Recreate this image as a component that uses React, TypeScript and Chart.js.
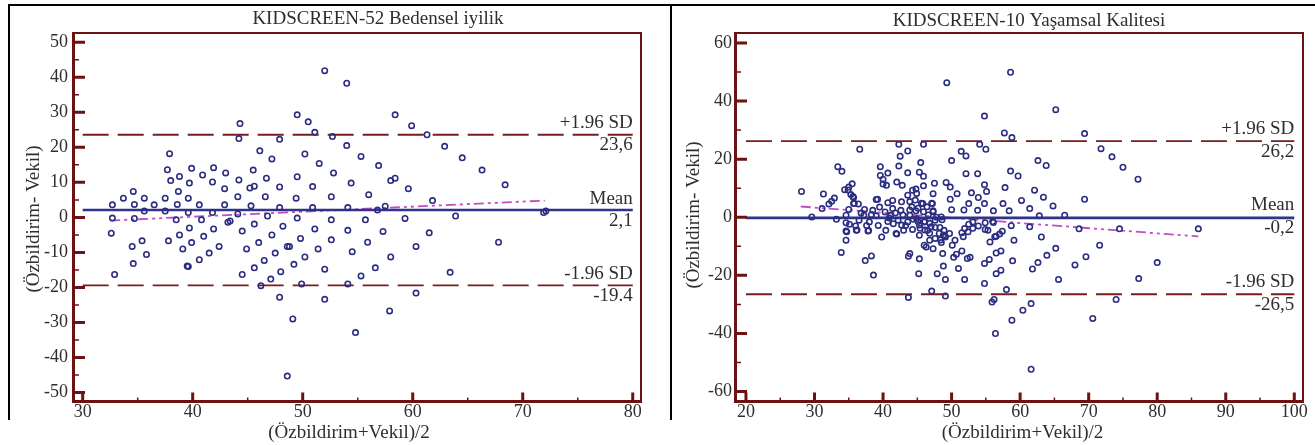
import React, { useEffect, useRef } from "react";
import { Chart, registerables } from "chart.js";

Chart.register(...registerables);

const FONT = '"Liberation Serif", "Times New Roman", serif';
const NAVY = "#2b2e80";
const MEAN_BLUE = "#2f3389";
const DASH_RED = "#7a1c1c";
const FRAME_RED = "#6c1212";
const MAGENTA = "#c24cc2";
const TEXT = "#2e2e2e";

// ---------------- Left panel: KIDSCREEN-52 Bedensel iyilik ----------------
const leftTitle = "KIDSCREEN-52 Bedensel iyilik";
const leftXTicks = [30, 40, 50, 60, 70, 80];
const leftXMinor = [35, 45, 55, 65, 75];
const leftYTicks = [-50, -40, -30, -20, -10, 0, 10, 20, 30, 40, 50];
const leftYMinor = [-45, -35, -25, -15, -5, 5, 15, 25, 35, 45];
const leftMean = 2.1;
const leftUpper = 23.6;
const leftLower = -19.4;
const leftLineLabels = ["+1.96 SD", "23,6", "Mean", "2,1", "-1.96 SD", "-19.4"];
const leftRegX = [32.5, 72.0];
const leftRegY = [-0.9, 4.8];
const leftAvg = [
  52.0, 54.0, 44.3, 49.5, 50.5, 51.1, 58.4, 59.9, 61.3, 44.2, 47.9, 52.7, 54.0, 62.9, 64.5, 66.3, 68.4,
  46.1, 47.2, 50.2, 51.5, 55.3, 56.9, 37.9, 37.7, 38.0, 38.8, 39.9, 40.9, 41.9, 43.0, 45.5, 39.7, 41.8,
  44.2, 46.7, 49.5, 52.8, 54.4, 58.0, 58.4, 59.6, 38.7, 42.9, 45.2, 45.6, 47.9, 50.9, 34.6, 33.7, 32.7,
  34.7, 35.6, 36.5, 37.5, 38.6, 39.6, 40.6, 42.9, 44.1, 45.3, 46.6, 49.4, 52.6, 56.0, 61.8, 57.5, 47.9,
  50.9, 54.1, 35.6, 37.5, 39.6, 41.8, 44.1, 46.8, 56.8, 71.9, 72.1, 32.7, 34.7, 38.5, 40.8, 43.4, 43.2,
  49.5, 52.6, 55.7, 59.3, 63.9, 32.6, 39.7, 41.9, 44.5, 47.2, 48.2, 51.1, 54.1, 57.3, 61.5, 38.8, 37.8,
  41.0, 39.9, 35.4, 34.5, 39.1, 42.4, 44.9, 46.0, 48.6, 48.8, 49.8, 52.6, 55.9, 60.3, 67.8, 35.8, 41.5,
  40.6, 39.6, 39.5, 34.6, 32.9, 47.5, 46.5, 45.6, 44.5, 50.2, 51.4, 54.5, 58.0, 49.2, 48.0, 47.1, 46.2,
  52.0, 56.6, 55.3, 54.1, 49.9, 47.9, 52.0, 60.3, 57.9, 63.4, 49.1, 54.8, 48.6, 45.6,
];
const leftDiff = [
  41.9, 38.3, 26.8, 29.3, 27.3, 24.3, 29.3, 26.2, 23.6, 22.5, 22.3, 23.1, 20.5, 20.3, 17.0, 13.5, 9.3,
  19.0, 16.7, 18.1, 15.4, 17.4, 14.8, 18.2, 13.6, 10.5, 11.7, 14.0, 12.1, 14.2, 12.7, 13.5, 9.8, 10.1,
  10.7, 11.2, 11.6, 12.7, 9.8, 10.5, 11.2, 8.2, 7.4, 8.2, 8.4, 8.9, 8.7, 8.8, 7.4, 5.5, 3.6,
  3.7, 5.5, 3.6, 5.5, 3.7, 5.5, 3.6, 3.6, 5.9, 3.3, 5.9, 5.5, 5.9, 6.5, 4.8, 3.2, 2.8,
  2.8, 2.8, 1.8, 1.8, 1.4, 1.4, 1.0, 0.4, 2.1, 1.4, 1.8, -0.2, -0.3, -0.7, -0.7, -1.0, -1.4,
  -0.2, -0.7, -0.7, -0.3, 0.4, -4.5, -3.0, -3.3, -3.9, -5.0, -2.5, -3.3, -3.7, -4.0, -4.4, -5.0, -6.7,
  -5.4, -7.2, -6.7, -8.3, -9.0, -8.3, -9.0, -7.2, -8.3, -8.3, -6.0, -6.4, -7.1, -8.3, -7.1, -10.6, -10.2,
  -12.1, -14.0, -13.9, -13.2, -16.3, -10.2, -12.3, -14.4, -16.3, -11.3, -9.0, -9.8, -11.3, -13.4, -15.5, -17.6, -19.5,
  -14.8, -14.4, -16.7, -19.0, -19.0, -22.8, -23.4, -21.6, -26.7, -15.7, -29.0, -32.9, -45.3, -1.9,
];

// ---------------- Right panel: KIDSCREEN-10 Yaşamsal Kalitesi ----------------
const rightTitle = "KIDSCREEN-10 Yaşamsal Kalitesi";
const rightXTicks = [20, 30, 40, 50, 60, 70, 80, 90, 100];
const rightXMinor = [25, 35, 45, 55, 65, 75, 85, 95];
const rightYTicks = [-60, -40, -20, 0, 20, 40, 60];
const rightYMinor = [-50, -30, -10, 10, 30, 50];
const rightMean = -0.2;
const rightUpper = 26.2;
const rightLower = -26.5;
const rightLineLabels = ["+1.96 SD", "26,2", "Mean", "-0,2", "-1.96 SD", "-26,5"];
const rightRegX = [28.0, 86.0];
const rightRegY = [3.7, -6.6];
const rightAvg = [
  58.6, 49.3, 65.2, 54.8, 57.7, 58.8, 69.4, 42.3, 45.9, 54.1, 55.0, 36.6, 43.6, 42.5, 51.4, 52.1, 71.8,
  73.4, 75.0, 77.2, 62.6, 63.8, 50.0, 33.4, 34.0, 39.6, 40.7, 42.3, 45.5, 43.6, 45.3, 45.9, 52.1, 53.8,
  58.6, 59.7, 39.6, 40.0, 42.0, 42.8, 40.5, 35.5, 35.0, 34.4, 35.3, 35.7, 31.3, 28.1, 32.9, 32.5, 32.1,
  31.1, 29.6, 36.4, 35.7, 35.0, 37.3, 39.0, 38.5, 40.7, 41.4, 42.7, 43.6, 44.3, 44.8, 45.9, 47.5, 49.2,
  49.8, 50.8, 49.8, 47.3, 47.2, 45.8, 44.2, 44.8, 47.3, 42.6, 41.4, 50.0, 51.8, 52.5, 52.9, 53.9, 55.1,
  54.8, 53.8, 54.8, 56.1, 57.5, 57.8, 58.4, 60.2, 61.4, 62.1, 63.4, 64.8, 62.8, 66.5, 69.4, 33.2, 34.6,
  34.6, 35.1, 36.0, 36.1, 34.6, 34.6, 33.9, 37.2, 38.0, 37.8, 37.4, 38.3, 38.6, 39.8, 40.4, 40.7, 41.1,
  41.5, 41.9, 42.7, 43.0, 43.6, 43.9, 44.3, 44.9, 45.3, 45.3, 46.0, 46.5, 46.0, 46.8, 47.3, 47.0, 47.6,
  48.2, 48.5, 48.9, 49.1, 49.7, 50.1, 48.5, 48.7, 48.8, 47.9, 49.1, 47.1, 49.1, 43.7, 45.2, 45.3, 43.9,
  43.7, 46.3, 50.5, 51.5, 51.9, 52.5, 53.1, 50.7, 51.5, 52.3, 51.0, 51.9, 54.8, 52.7, 55.3, 55.6, 55.5,
  54.8, 56.5, 57.2, 57.4, 56.5, 56.1, 57.2, 56.5, 58.9, 59.1, 58.7, 58.0, 56.2, 55.9, 56.4, 58.8, 60.4,
  61.6, 61.6, 61.4, 63.1, 61.8, 62.6, 63.9, 65.2, 65.6, 68.0, 68.6, 69.6, 71.6, 70.6, 74.0, 74.5, 77.3,
  80.0, 86.0, 40.0, 34.9, 35.6, 35.8, 39.2, 34.7, 37.9, 36.2, 42.0, 54.9, 56.0, 51.7, 52.4, 53.1, 53.9,
  54.9, 56.3, 57.0, 50.3, 48.4, 49.0, 44.9, 43.9, 44.7, 45.6, 45.1, 46.4, 47.1, 47.3, 43.9, 45.9, 46.6,
  47.8, 48.6, 44.4, 45.1, 46.1, 46.8, 47.6, 48.3, 45.4, 46.1, 46.8, 47.6, 48.8, 39.5, 40.3, 40.9, 41.8,
  42.2, 42.9, 43.3, 39.0, 38.3, 36.8, 36.5, 37.6, 39.3,
];
const rightDiff = [
  49.9, 46.3, 37.0, 34.8, 29.0, 27.4, 28.8, 25.1, 25.1, 25.1, 23.4, 23.4, 22.8, 21.0, 22.7, 21.1, 23.6,
  20.8, 17.2, 13.1, 19.5, 17.8, 19.5, 17.4, 15.8, 17.4, 15.2, 17.6, 18.8, 15.3, 15.5, 14.1, 15.0, 15.0,
  15.9, 14.2, 14.4, 13.1, 12.1, 11.0, 11.0, 11.5, 10.4, 9.5, 7.8, 6.8, 8.0, 8.9, 6.6, 5.5, 4.6,
  3.0, 0.1, 4.6, 4.7, 2.7, 2.7, 6.1, 2.4, 5.0, 5.8, 5.3, 7.6, 9.3, 9.7, 10.8, 11.7, 12.0,
  10.4, 8.1, 6.2, 8.1, 4.7, 4.7, 3.6, 2.2, 2.2, 2.4, 3.0, 2.6, 2.5, 4.7, 8.4, 6.8, 8.9,
  11.2, 2.4, 4.7, 2.2, 4.7, 10.2, 2.2, 5.8, 3.0, 9.3, 6.9, 3.9, 0.5, 0.7, 6.2, -0.7, 0.7,
  -1.9, -2.4, -3.0, -4.5, -4.7, -7.9, -12.1, 0.7, -1.6, -4.7, -14.9, -13.3, -19.9, -6.8, -4.5, -1.5, 0.7,
  -2.2, -5.6, -2.7, -4.5, -1.6, 0.7, -4.2, -0.5, -6.2, -2.7, -1.6, -4.5, -9.6, -7.9, -10.8, -3.3, -1.0,
  -5.6, 0.1, -4.5, -6.8, -5.6, -9.6, -8.7, -12.5, -16.8, -19.4, -21.4, -25.4, -27.1, -27.6, -19.4, -14.3, -12.5,
  -13.4, -10.2, -7.9, -5.3, -3.9, -2.4, -1.6, -12.7, -11.6, -14.2, -17.6, -21.4, -22.8, -13.8, -4.5, -8.5, -14.5,
  -15.9, -12.3, -11.6, -4.8, -6.5, -1.8, -18.2, -19.4, -15.0, -7.9, -2.9, -24.9, -28.3, -29.2, -40.0, -35.4, -32.0,
  -29.7, -52.3, -3.3, -6.8, -17.8, -15.6, -13.1, -10.7, -21.4, -16.4, -4.0, -13.6, -9.6, -34.8, -28.3, -4.0, -21.1,
  -15.6, -4.0, 11.4, 9.4, 7.1, 4.8, 6.2, -5.0, -4.6, -4.4, -5.8, -1.9, -1.5, -6.7, -5.0, -3.8, -3.0,
  -4.2, -6.7, -5.8, -13.8, -7.8, -6.5, 8.2, 5.4, 5.9, 4.8, 3.1, 3.6, 4.8, 1.9, 2.5, 1.9, 0.8,
  0.0, -0.9, -0.7, -1.5, -1.5, -2.1, -3.5, -3.5, -3.8, -4.4, -5.5, -7.3, -6.1, 3.5, 1.8, -0.3, 1.5,
  -1.0, 0.8, -2.8, 0.5, 0.9, 1.5, -1.0, -2.8, -2.8,
];

type PanelCfg = {
  xs: number[];
  ys: number[];
  xMin: number;
  xMax: number;
  yMin: number;
  yMax: number;
  width: number;
  offsetLeft: number;
  padding: { left: number; right: number; top: number; bottom: number };
  xTicks: number[];
  xMinor: number[];
  yTicks: number[];
  yMinor: number[];
  lineFrom: number;
  lineTo: number;
  mean: number;
  upper: number;
  lower: number;
  regX: number[];
  regY: number[];
  labels: string[];
  title: string;
  titlePos: [number, number];
  xTitlePos: [number, number];
  yTitlePos: [number, number];
  yLabelPad: number;
  upperOffset: number;
};

const leftCfg: PanelCfg = {
  xs: leftAvg,
  ys: leftDiff,
  xMin: 29.12,
  xMax: 80.75,
  yMin: -52.57,
  yMax: 52.65,
  width: 670,
  offsetLeft: 0,
  padding: { left: 73, right: 29, top: 33, bottom: 43.5 },
  xTicks: leftXTicks,
  xMinor: leftXMinor,
  yTicks: leftYTicks,
  yMinor: leftYMinor,
  lineFrom: 30,
  lineTo: 80,
  mean: leftMean,
  upper: leftUpper,
  lower: leftLower,
  regX: leftRegX,
  regY: leftRegY,
  labels: leftLineLabels,
  title: leftTitle,
  titlePos: [378, 19],
  xTitlePos: [349, 433],
  yTitlePos: [34, 219],
  yLabelPad: 5,
  upperOffset: 6.5,
};

const rightCfg: PanelCfg = {
  xs: rightAvg,
  ys: rightDiff,
  xMin: 18.4,
  xMax: 101.27,
  yMin: -63.4,
  yMax: 63.4,
  width: 643,
  offsetLeft: 672,
  padding: { left: 63, right: 12, top: 33, bottom: 43.5 },
  xTicks: rightXTicks,
  xMinor: rightXMinor,
  yTicks: rightYTicks,
  yMinor: rightYMinor,
  lineFrom: 20,
  lineTo: 100,
  mean: rightMean,
  upper: rightUpper,
  lower: rightLower,
  regX: rightRegX,
  regY: rightRegY,
  labels: rightLineLabels,
  title: rightTitle,
  titlePos: [357, 21],
  xTitlePos: [350.5, 433],
  yTitlePos: [22, 215],
  yLabelPad: 3,
  upperOffset: 7.5,
};

function makeDecor(cfg: PanelCfg) {
  return {
    id: "decor",
    afterDraw(chart: any) {
      const { ctx, chartArea: a } = chart;
      const sx = chart.scales.x;
      const sy = chart.scales.y;
      ctx.save();

      // frame
      ctx.strokeStyle = FRAME_RED;
      ctx.lineCap = "butt";
      ctx.lineWidth = 2;
      ctx.beginPath();
      ctx.moveTo(a.left, a.top);
      ctx.lineTo(a.right + 1, a.top);
      ctx.moveTo(a.right, a.top);
      ctx.lineTo(a.right, a.bottom + 1.5);
      ctx.stroke();
      ctx.lineWidth = 3;
      ctx.beginPath();
      ctx.moveTo(a.left + 0.5, a.top - 1);
      ctx.lineTo(a.left + 0.5, a.bottom + 1.5);
      ctx.moveTo(a.left - 1, a.bottom);
      ctx.lineTo(a.right + 1, a.bottom);
      ctx.stroke();

      // inward ticks
      ctx.lineWidth = 3;
      ctx.beginPath();
      cfg.yTicks.forEach((v) => {
        const p = sy.getPixelForValue(v);
        ctx.moveTo(a.left, p);
        ctx.lineTo(a.left + 12, p);
      });
      cfg.xTicks.forEach((v) => {
        const p = sx.getPixelForValue(v);
        ctx.moveTo(p, a.bottom);
        ctx.lineTo(p, a.bottom - 9);
      });
      ctx.stroke();
      ctx.lineWidth = 1.5;
      ctx.beginPath();
      cfg.yMinor.forEach((v) => {
        const p = sy.getPixelForValue(v);
        ctx.moveTo(a.left, p);
        ctx.lineTo(a.left + 6, p);
      });
      cfg.xMinor.forEach((v) => {
        const p = sx.getPixelForValue(v);
        ctx.moveTo(p, a.bottom);
        ctx.lineTo(p, a.bottom - 4);
      });
      ctx.stroke();

      // tick labels
      ctx.fillStyle = TEXT;
      ctx.font = `18px ${FONT}`;
      ctx.textAlign = "right";
      ctx.textBaseline = "middle";
      cfg.yTicks.forEach((v) => {
        ctx.fillText(String(v), a.left - cfg.yLabelPad, sy.getPixelForValue(v));
      });
      ctx.textAlign = "center";
      cfg.xTicks.forEach((v) => {
        ctx.fillText(String(v), sx.getPixelForValue(v), a.bottom + 11.2);
      });

      // titles
      ctx.font = `19px ${FONT}`;
      ctx.fillText(cfg.title, cfg.titlePos[0], cfg.titlePos[1]);
      ctx.fillText("(Özbildirim+Vekil)/2", cfg.xTitlePos[0], cfg.xTitlePos[1]);
      ctx.save();
      ctx.translate(cfg.yTitlePos[0], cfg.yTitlePos[1]);
      ctx.rotate(-Math.PI / 2);
      ctx.fillText("(Özbildirim- Vekil)", 0, 0);
      ctx.restore();

      // line labels
      ctx.textAlign = "right";
      ctx.textBaseline = "alphabetic";
      const lx = sx.getPixelForValue(cfg.lineTo);
      const vals = [cfg.upper, cfg.mean, cfg.lower];
      vals.forEach((v, i) => {
        const p = sy.getPixelForValue(v);
        ctx.fillText(cfg.labels[i * 2], lx, p - cfg.upperOffset);
        ctx.fillText(cfg.labels[i * 2 + 1], lx, p + 15.5);
      });

      ctx.restore();
    },
  };
}

function hLine(from: number, to: number, v: number) {
  return [
    { x: from, y: v },
    { x: to, y: v },
  ];
}

function Panel({ cfg }: { cfg: PanelCfg }) {
  const ref = useRef<HTMLCanvasElement>(null);
  useEffect(() => {
    const canvas = ref.current;
    if (!canvas) return;
    const points = cfg.xs.map((x, i) => ({ x, y: cfg.ys[i] }));
    const reg = cfg.regX.map((x, i) => ({ x, y: cfg.regY[i] }));
    const chart = new Chart(canvas, {
      type: "scatter",
      data: {
        datasets: [
          {
            data: points,
            pointStyle: "circle",
            pointRadius: 2.7,
            pointBorderWidth: 1.6,
            pointBorderColor: NAVY,
            pointBackgroundColor: "rgba(0,0,0,0)",
            showLine: false,
          } as any,
          {
            data: hLine(cfg.lineFrom, cfg.lineTo, cfg.mean),
            showLine: true,
            borderColor: MEAN_BLUE,
            borderWidth: 2.6,
            pointRadius: 0,
          },
          {
            data: hLine(cfg.lineFrom, cfg.lineTo, cfg.upper),
            showLine: true,
            borderColor: DASH_RED,
            borderWidth: 1.8,
            borderDash: [26, 9],
            pointRadius: 0,
          },
          {
            data: hLine(cfg.lineFrom, cfg.lineTo, cfg.lower),
            showLine: true,
            borderColor: DASH_RED,
            borderWidth: 1.8,
            borderDash: [26, 9],
            pointRadius: 0,
          },
          {
            data: reg,
            showLine: true,
            borderColor: MAGENTA,
            borderWidth: 1.8,
            borderDash: [10, 4, 3, 4, 3, 4],
            pointRadius: 0,
          },
        ],
      },
      options: {
        responsive: false,
        animation: false,
        devicePixelRatio: 1,
        events: [],
        layout: { padding: cfg.padding },
        plugins: {
          legend: { display: false },
          tooltip: { enabled: false },
          title: { display: false },
        },
        scales: {
          x: { type: "linear", min: cfg.xMin, max: cfg.xMax, display: false },
          y: { type: "linear", min: cfg.yMin, max: cfg.yMax, display: false },
        },
      },
      plugins: [makeDecor(cfg)],
    });
    return () => chart.destroy();
  }, [cfg]);
  return (
    <canvas
      ref={ref}
      width={cfg.width}
      height={445}
      style={{ position: "absolute", left: cfg.offsetLeft, top: 0, width: cfg.width, height: 445 }}
    />
  );
}

export default function App() {
  return (
    <div
      style={{
        position: "absolute",
        left: 0,
        top: 0,
        width: 1315,
        height: 445,
        background: "#ffffff",
        overflow: "hidden",
      }}
    >
      <Panel cfg={leftCfg} />
      <Panel cfg={rightCfg} />
      <div style={{ position: "absolute", left: 8, top: 4, width: 1307, height: 2, background: "#000" }} />
      <div style={{ position: "absolute", left: 8, top: 4, width: 2, height: 416, background: "#000" }} />
      <div style={{ position: "absolute", left: 670, top: 4, width: 2, height: 416, background: "#000" }} />
    </div>
  );
}
